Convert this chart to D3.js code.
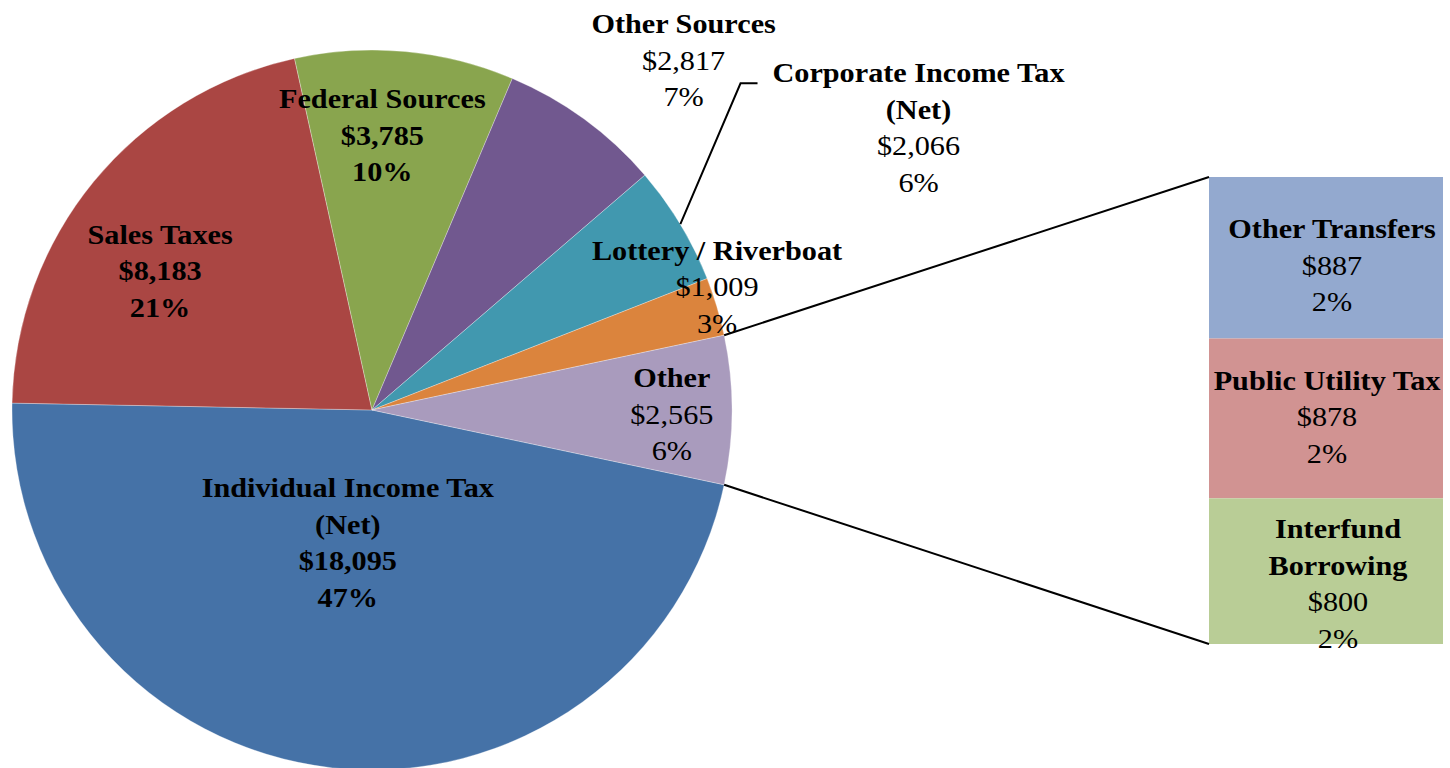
<!DOCTYPE html>
<html>
<head>
<meta charset="utf-8">
<script src="https://cdn.jsdelivr.net/npm/d3@7"></script>
<style>
  html, body { margin: 0; padding: 0; background: #fff; }
  svg { display: block; }
  text { font-family: "Liberation Serif", "Times New Roman", serif; fill: #000; }
</style>
</head>
<body>
<svg id="chart" width="1450" height="768"></svg>
<script>
// Revenue sources ($ millions), pie with the "Other" slice broken out into a bar
const categories = ["Individual Income Tax (Net)", "Sales Taxes", "Federal Sources", "Other Sources",
                    "Corporate Income Tax (Net)", "Lottery / Riverboat"];
const values = [18095, 8183, 3785, 2817, 2066, 1009];
const percentLabels = ["47%", "21%", "10%", "7%", "6%", "3%"];

const barCategories = ["Other Transfers", "Public Utility Tax", "Interfund Borrowing"];
const barValues = [887, 878, 800];
const barPercentLabels = ["2%", "2%", "2%"];

const otherName = "Other";
const otherPercentLabel = "6%";

// label line breaks
const nameLines = {
  "Individual Income Tax (Net)": ["Individual Income Tax", "(Net)"],
  "Corporate Income Tax (Net)": ["Corporate Income Tax", "(Net)"],
  "Interfund Borrowing": ["Interfund", "Borrowing"]
};

const colors = ["#4572a7", "#aa4643", "#89a54e", "#71588f", "#4198af", "#db843d", "#a99bbd"];
const barColors = ["#93a9cf", "#d19392", "#b9cd96"];

const svg = d3.select("#chart");
const W = 1450, H = 768;
const cx = 372, cy = 410, R = 360;
const fontSize = 28, lineH = 36.5, stretch = 1.08;

const otherValue = d3.sum(barValues);
const slices = categories.map((c, i) => ({ name: c, value: values[i], pct: percentLabels[i], color: colors[i] }));
slices.push({ name: otherName, value: otherValue, pct: otherPercentLabel, color: colors[6] });
const total = d3.sum(slices, d => d.value);

// rotate so the "Other" slice is centred on the horizontal, facing the bar
const start = Math.PI / 2 + Math.PI * otherValue / total;
const pie = d3.pie().sort(null).value(d => d.value).startAngle(start).endAngle(start + 2 * Math.PI);
const arcs = pie(slices);
const arc = d3.arc().innerRadius(0).outerRadius(R);
const polar = (a, r) => [cx + r * Math.sin(a), cy - r * Math.cos(a)];

const gPie = svg.append("g").attr("transform", `translate(${cx},${cy})`);
gPie.selectAll("path").data(arcs).join("path")
  .attr("d", arc)
  .attr("fill", d => d.data.color)
  .attr("stroke", "#ffffff")
  .attr("stroke-opacity", 0.5)
  .attr("stroke-width", 0.6);

// bar of the "Other" breakdown
const barX = 1209, barW = 234, barTop = 177, barBottom = 644;
const y = d3.scaleLinear().domain([0, otherValue]).range([barTop, barBottom]);
const cum = d3.cumsum(barValues);
const barData = barCategories.map((c, i) => ({
  name: c, value: barValues[i], pct: barPercentLabels[i], color: barColors[i],
  y0: cum[i] - barValues[i], y1: cum[i]
}));
svg.append("g").selectAll("rect").data(barData).join("rect")
  .attr("x", barX).attr("width", barW)
  .attr("y", d => y(d.y0))
  .attr("height", d => y(d.y1) - y(d.y0))
  .attr("fill", d => d.color);

// connector lines from the "Other" slice to the bar
const otherArc = arcs[arcs.length - 1];
const pTop = polar(otherArc.startAngle, R);
const pBot = polar(otherArc.endAngle, R);
svg.append("line").attr("x1", pTop[0]).attr("y1", pTop[1]).attr("x2", barX).attr("y2", y(0))
  .attr("stroke", "#000").attr("stroke-width", 2);
svg.append("line").attr("x1", pBot[0]).attr("y1", pBot[1]).attr("x2", barX).attr("y2", y(otherValue))
  .attr("stroke", "#000").attr("stroke-width", 2);

// label placement: radius factor along the slice middle + nudge, and which lines are bold
const fmt = d3.format("$,");
const pieLabelLayout = {
  "Individual Income Tax (Net)": { rf: 0.37, dx: -9, dy: 0, allBold: true },
  "Sales Taxes": { rf: 0.70, dx: -17, dy: 20, allBold: true },
  "Federal Sources": { rf: 0.767, dx: -15, dy: 0, allBold: true },
  "Other Sources": { rf: 1.2, dx: 57, dy: -1, allBold: false },
  "Corporate Income Tax (Net)": { rf: 1.5, dx: 84, dy: -4, allBold: false },
  "Lottery / Riverboat": { rf: 0.96, dx: 14, dy: -24, allBold: false },
  "Other": { rf: 0.83, dx: 1, dy: 4, allBold: false }
};
const barLabelLayout = {
  "Other Transfers": { dx: 6, dy: 7 },
  "Public Utility Tax": { dx: 1, dy: -2 },
  "Interfund Borrowing": { dx: 12, dy: 12 }
};

function drawLabel(x, yc, name, value, pct, allBold) {
  const lines = (nameLines[name] || [name]).map(t => ({ t, bold: true }))
    .concat([{ t: fmt(value), bold: allBold }, { t: pct, bold: allBold }]);
  const n = lines.length;
  const g = svg.append("g").attr("transform", `translate(${x},${yc}) scale(${stretch},1)`);
  g.selectAll("text").data(lines).join("text")
    .attr("text-anchor", "middle")
    .attr("x", 0)
    .attr("y", (d, i) => (i - (n - 1) / 2) * lineH + 0.35 * fontSize)
    .attr("font-size", fontSize)
    .attr("font-weight", d => d.bold ? "bold" : "normal")
    .text(d => d.t);
  return g;
}

arcs.forEach(a => {
  const L = pieLabelLayout[a.data.name];
  const mid = (a.startAngle + a.endAngle) / 2;
  const p = polar(mid, L.rf * R);
  drawLabel(p[0] + L.dx, p[1] + L.dy, a.data.name, a.data.value, a.data.pct, L.allBold);
});

barData.forEach(d => {
  const L = barLabelLayout[d.name];
  drawLabel(barX + barW / 2 + L.dx, (y(d.y0) + y(d.y1)) / 2 + L.dy, d.name, d.value, d.pct, false);
});

// leader line for the Corporate Income Tax label
const corp = arcs.find(a => a.data.name === "Corporate Income Tax (Net)");
const corpMid = (corp.startAngle + corp.endAngle) / 2;
const pc = polar(corpMid, R);
const lc = pieLabelLayout[corp.data.name];
const lp = polar(corpMid, lc.rf * R);
const labelLeft = lp[0] + lc.dx - 156, labelTop = lp[1] + lc.dy - 1.5 * lineH + 0.35 * fontSize + 1;
svg.append("path")
  .attr("d", d3.line()([[pc[0], pc[1]], [labelLeft - 22, labelTop], [labelLeft - 5, labelTop]]))
  .attr("fill", "none").attr("stroke", "#000").attr("stroke-width", 2);
</script>
</body>
</html>
